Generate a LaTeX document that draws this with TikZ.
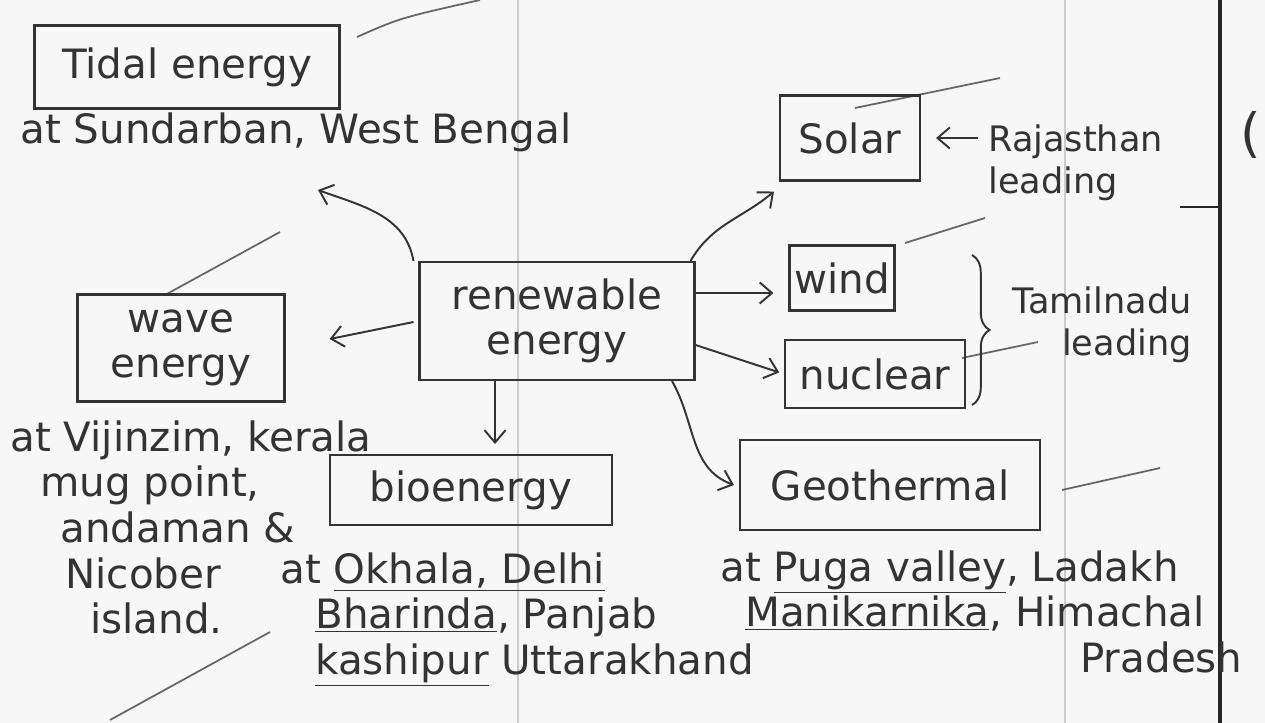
\documentclass[tikz,border=0pt]{standalone}
\usepackage{fontspec}
\setmainfont{DejaVu Sans}
\usepackage{tikz}
\usetikzlibrary{decorations.pathreplacing, arrows.meta}

\tikzset{
  box/.style={draw, line width=1.2pt, black!80, text=black!80, align=center,
    inner sep=0pt, font=\fontsize{23}{26}\selectfont},
  txt/.style={text=black!80, align=left, inner sep=0pt,
    font=\fontsize{23}{26}\selectfont},
  side/.style={txt, font=\fontsize{20}{24}\selectfont},
  pen/.style={-{Straight Barb[length=7pt, width=12pt]}, line width=1.1pt, black!80},
  bleed/.style={black!60, line width=1pt},
}

\begin{document}
\begin{tikzpicture}[x=0.02cm, y=-0.02cm] % page in pixels
		\useasboundingbox[fill=black!3] (0,0) rectangle (1265,723);
		% notebook page
		\draw[black!20, line width=0.6pt] (518,0) -- (518,723);
		\draw[black!20, line width=0.6pt] (1065,0) -- (1065,723);
		\draw[black!85, line width=2pt] (1220,0) -- (1220,723);
		\draw[black!85, line width=1.5pt] (1180,207) -- (1220,207);
		\node[txt, anchor=west, font=\fontsize{30}{30}\selectfont] (paren) at (1240,135) {(};

		% strokes from the other side
		\draw[bleed] (357,37) .. controls (400,18) .. (480,0);
		\draw[bleed] (855,108) -- (1000,78);
		\draw[bleed] (905,243) -- (985,218);
		\draw[bleed] (962,358) -- (1038,342);
		\draw[bleed] (1062,490) -- (1160,468);
		\draw[bleed] (165,295) -- (280,232);
		\draw[bleed] (110,720) -- (270,632);

		% boxes
		\node[box, minimum width=6.1cm, minimum height=1.66cm] (tidal) at (187,67) {Tidal energy};
		\node[box, minimum width=2.8cm, minimum height=1.7cm] (solar) at (850,138) {Solar};
		\node[box, minimum width=2.1cm, minimum height=1.3cm] (wind) at (842,278) {wind};
		\node[box, minimum width=3.6cm, minimum height=1.36cm] (nuclear) at (875,374) {nuclear};
		\node[box, minimum width=5.5cm, minimum height=2.36cm] (renew) at (557,321) {renewable\\energy};
		\node[box, minimum width=4.14cm, minimum height=2.14cm] (wave) at (181,348) {wave\\energy};
		\node[box, minimum width=5.64cm, minimum height=1.4cm] (bio) at (471,490) {bioenergy};
		\node[box, minimum width=6cm, minimum height=1.8cm] (geo) at (890,485) {Geothermal};

		% places
		\node[txt, anchor=west] (tidalat) at (20,132) {at Sundarban, West Bengal};
		\node[txt, anchor=north west] (waveat) at (10,420) {at Vijinzim, kerala\\
			\hspace*{0.6cm}mug point,\\
			\hspace*{1cm}andaman \&\\
			\hspace*{1.1cm}Nicober\\
			\hspace*{1.6cm}island.};
		\node[txt, anchor=north west] (bioat) at (280,552) {at \underline{Okhala, Delhi}\\
			\hspace*{0.7cm}\underline{Bharinda}, Panjab\\
			\hspace*{0.7cm}\underline{kashipur} Uttarakhand};
		\node[txt, anchor=north west] (geoat) at (720,550) {at \underline{Puga valley}, Ladakh\\
			\hspace*{0.5cm}\underline{Manikarnika}, Himachal\\
			\hspace*{7.2cm}Pradesh};
		\node[side, anchor=west] (raj) at (988,163) {Rajasthan\\leading};
		\node[side, align=right, anchor=east] (tamil) at (1192,325) {Tamilnadu\\leading};

		\draw[pen, shorten >=0.3cm, shorten <=0.2cm] (raj.west |- solar.east) -- (solar.east);
		\draw[line width=1.1pt, black!80, decorate, decoration={brace, amplitude=10pt}]
			(972,255) -- (972,405);

		% arrows out of the middle box
		\coordinate (tidaltip) at (318,190);
		\draw[pen] ([xshift=-0.1cm]renew.north west) to[out=100, in=-20] (tidaltip);
		\draw[pen, shorten >=0.9cm, shorten <=0.1cm] (renew.west) -- (wave.east);
		\draw[pen] ([xshift=-1.24cm]renew.south) -- ([xshift=0.48cm, yshift=0.2cm]bio.north);
		\draw[pen] ([xshift=-0.1cm]renew.north east) to[out=60, in=-140] ([shift={(-0.1cm,-0.2cm)}]solar.south west);
		\draw[pen, shorten >=0.3cm] ([yshift=0.56cm]renew.east) -- ([yshift=-0.3cm]wind.west);
		\draw[pen, shorten >=0.1cm] ([yshift=-0.48cm]renew.east) -- (nuclear.west);
		\draw[pen] ([xshift=2.3cm]renew.south) to[out=-60, in=160] ([xshift=-0.1cm]geo.west);
		\end{tikzpicture}
\end{document}
